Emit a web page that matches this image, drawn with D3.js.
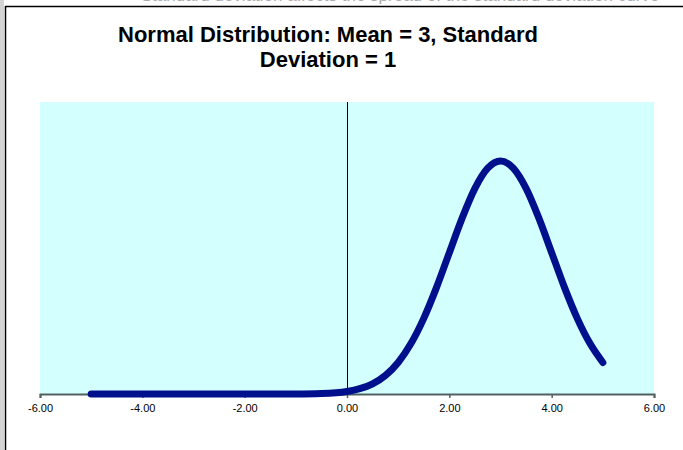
<!DOCTYPE html>
<html>
<head>
<meta charset="utf-8">
<script src="https://cdn.jsdelivr.net/npm/d3@7"></script>
<style>
  html, body { margin: 0; padding: 0; background: #fff; }
  svg { display: block; }
</style>
</head>
<body>
<div id="chart"></div>
<script>
// x values of the plotted points
var xValues = [-5, -4.5, -4, -3.5, -3, -2.5, -2, -1.5, -1, -0.5,
  0, 0.25, 0.5, 0.75, 1, 1.25, 1.5, 1.75, 2, 2.25, 2.5, 2.75,
  3, 3.25, 3.5, 3.75, 4, 4.25, 4.5, 4.75, 5];
// density
var yValues = [0, 0, 0, 0, 0, 0, 0, 0, 0.0001, 0.0009,
  0.0044, 0.0091, 0.0175, 0.0317, 0.054, 0.0863, 0.1295, 0.1826, 0.242, 0.3011, 0.3521, 0.3867,
  0.3989, 0.3867, 0.3521, 0.3011, 0.242, 0.1826, 0.1295, 0.0863, 0.054];
var xTicks = [-6, -4, -2, 0, 2, 4, 6];
var titleLines = ["Normal Distribution: Mean = 3, Standard", "Deviation = 1"];

var data = xValues.map(function(d, i) { return {x: d, y: yValues[i]}; });

var W = 683, H = 450;
var plot = {left: 40, right: 654, top: 102, bottom: 394};

var svg = d3.select("#chart")
  .append("svg")
    .attr("width", W)
    .attr("height", H);

// frame bits from the surrounding sheet
svg.append("rect")
  .attr("x", 0).attr("y", 0)
  .attr("width", 4).attr("height", H)
  .attr("fill", "#d4d4d4");
svg.append("line")
  .attr("x1", 5.5).attr("x2", 5.5)
  .attr("y1", 6).attr("y2", H)
  .attr("stroke", "#000").attr("stroke-width", 1.5);
svg.append("line")
  .attr("x1", 5).attr("x2", W)
  .attr("y1", 6.5).attr("y2", 6.5)
  .attr("stroke", "#000").attr("stroke-width", 1.5);
// text of the sheet above, mostly scrolled out of view
svg.append("text")
  .attr("x", 400)
  .attr("y", 1)
  .attr("text-anchor", "middle")
  .style("font-family", "Arial, 'Liberation Sans', sans-serif")
  .style("font-size", "17px")
  .attr("fill", "#aaa")
  .text("Standard deviation affects the spread of the standard deviation curve");

// Title
svg.append("text")
  .attr("x", 328)
  .attr("text-anchor", "middle")
  .style("font-family", "Arial, 'Liberation Sans', sans-serif")
  .style("font-size", "22px")
  .style("font-weight", "bold")
  .selectAll("tspan")
  .data(titleLines)
  .enter().append("tspan")
    .attr("x", 328)
    .attr("y", function(d, i) { return 42 + i * 25; })
    .text(function(d) { return d; });

// scales
var x = d3.scaleLinear()
  .domain([-6, 6])
  .range([plot.left, plot.right]);
var y = d3.scaleLinear()
  .domain([0, 0.5])
  .range([plot.bottom, plot.top]);

// plot area
svg.append("rect")
  .attr("x", plot.left)
  .attr("y", plot.top)
  .attr("width", plot.right - plot.left)
  .attr("height", plot.bottom - plot.top)
  .attr("fill", "#d4ffff");

// vertical axis at zero
svg.append("line")
  .attr("x1", x(0) + 0.5).attr("x2", x(0) + 0.5)
  .attr("y1", plot.top).attr("y2", plot.bottom)
  .attr("stroke", "#000").attr("stroke-width", 1);

// X axis
var xAxis = svg.append("g")
  .attr("transform", "translate(0," + plot.bottom + ")")
  .call(d3.axisBottom(x)
    .tickValues(xTicks)
    .tickSize(4)
    .tickPadding(6)
    .tickFormat(d3.format(".2f")));
xAxis.select(".domain")
  .attr("stroke", "#526060")
  .attr("stroke-width", 2);
xAxis.selectAll(".tick line")
  .attr("stroke", "#526060")
  .attr("stroke-width", 1.5);
xAxis.selectAll(".tick text")
  .attr("fill", "#000")
  .style("font-family", "Arial, 'Liberation Sans', sans-serif")
  .style("font-size", "11px")
  .text(function(d) { return d3.format(".2f")(d).replace("−", "-"); });

// the curve
svg.append("path")
  .datum(data)
  .attr("fill", "none")
  .attr("stroke", "#000f8c")
  .attr("stroke-width", 7)
  .attr("stroke-linecap", "round")
  .attr("stroke-linejoin", "round")
  .attr("d", d3.line()
    .curve(d3.curveMonotoneX)
    .x(function(d) { return x(d.x); })
    .y(function(d) { return y(d.y); })
  );
</script>
</body>
</html>
